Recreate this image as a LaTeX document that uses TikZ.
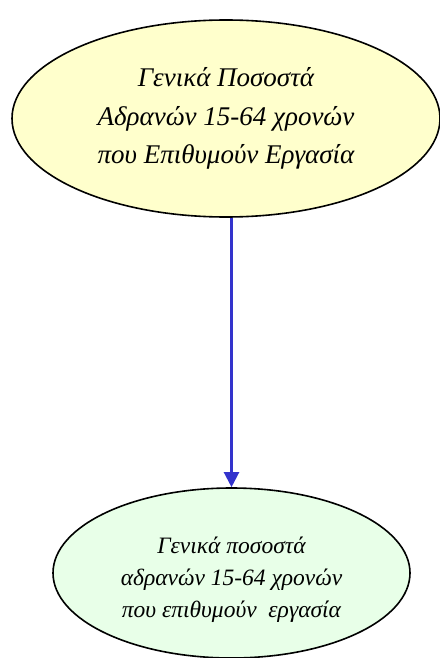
\documentclass[tikz,border=0pt]{standalone}
\usepackage{fontspec}
\setmainfont{Liberation Serif}
\usetikzlibrary{shapes.geometric,arrows.meta}
\definecolor{topfill}{HTML}{FFFFCC}
\definecolor{botfill}{HTML}{E8FFE8}
\definecolor{arrowblue}{HTML}{3333CC}
\begin{document}
\begin{tikzpicture}[x=1pt,y=-1pt,
  bubble/.style={ellipse,draw=black,line width=1.6pt,inner sep=0pt,align=center,font=\itshape},
  link/.style={draw=arrowblue,line width=2.2pt,-{Triangle[length=15pt,width=15pt]}}]
\useasboundingbox (0,0) rectangle (439,658);
\node[bubble,fill=topfill,minimum width=428pt,minimum height=197pt] (top) at (226,118.5) {};
\node[font=\itshape\fontsize{27}{38.5}\selectfont,align=center,inner sep=0pt] (toptext) at (top.center)
  {Γενικά Ποσοστά\\Αδρανών 15-64 χρονών\\που Επιθυμούν Εργασία};
\node[bubble,fill=botfill,minimum width=357pt,minimum height=170pt] (bot) at (231.5,573) {};
\node[font=\itshape\fontsize{23.5}{32}\selectfont,align=center,inner sep=0pt] (bottext) at (231.5,580)
  {Γενικά ποσοστά\\αδρανών 15-64 χρονών\\που επιθυμούν\ \ εργασία};
\draw[link] (top.south -| bot.north) -- (bot.north);
\end{tikzpicture}
\end{document}
